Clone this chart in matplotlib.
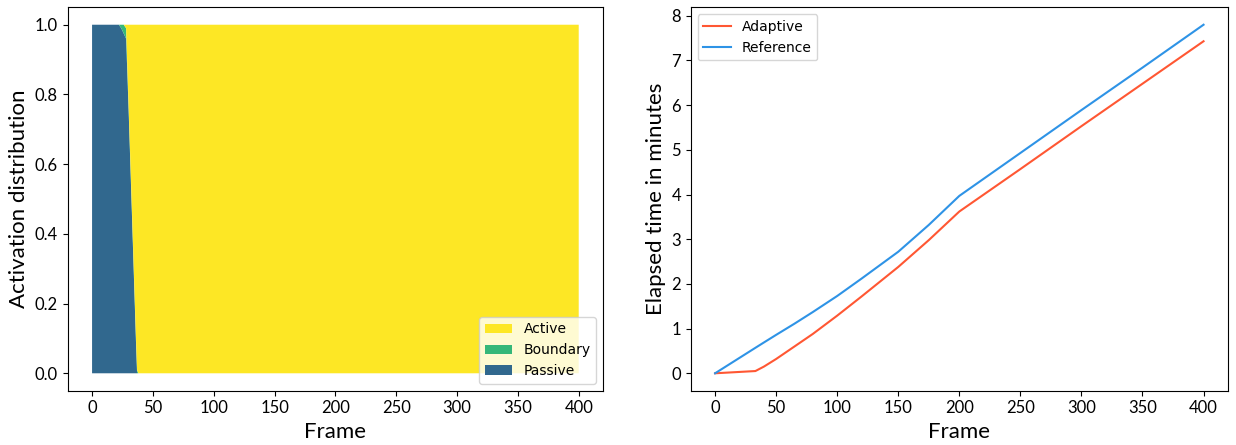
import matplotlib
matplotlib.use('Agg')
import matplotlib.pyplot as plt
from matplotlib import font_manager

# frame samples for the activation distribution (fractions)
dist_frames = [0, 22, 24, 26, 28, 30, 32, 34, 36, 37, 38, 400]
passive = [1.0, 1.0, 0.99, 0.975, 0.96, 0.76, 0.54, 0.32, 0.1, 0.0, 0.0, 0.0]
boundary = [0.0, 0.0, 0.01, 0.025, 0.03, 0.012, 0.012, 0.012, 0.012, 0.01, 0.0, 0.0]
active = [1.0 - p - b for p, b in zip(passive, boundary)]

# elapsed time (minutes)
time_frames = [0, 33, 40, 50, 65, 80, 100, 120, 150, 175, 200, 250, 300, 350, 400]
adaptive = [0.0, 0.05, 0.15, 0.32, 0.6, 0.88, 1.29, 1.72, 2.38, 2.98, 3.62,
            4.57, 5.53, 6.48, 7.43]
reference = [0.0, 0.57, 0.69, 0.86, 1.11, 1.37, 1.73, 2.12, 2.72, 3.32, 3.97,
             4.93, 5.89, 6.84, 7.80]

installed = {f.name for f in font_manager.fontManager.ttflist}
tick_font = 'Liberation Sans Narrow' if 'Liberation Sans Narrow' in installed else 'Lato'

fig, (ax1, ax2) = plt.subplots(1, 2, figsize=(12.36, 4.45), dpi=100)

ax1.stackplot(dist_frames, passive, boundary, active,
              colors=['#31688e', '#35b779', '#fde725'],
              labels=['Passive', 'Boundary', 'Active'])
ax1.use_sticky_edges = False
ax1.autoscale_view()
handles, labels = ax1.get_legend_handles_labels()
ax1.legend(handles[::-1], labels[::-1], loc='lower right', fontsize=10)
ax1.set_xlabel('Frame', fontsize=16, family=tick_font)
ax1.set_ylabel('Activation distribution', fontsize=16, family=tick_font)

ax2.plot(time_frames, adaptive, color='#ff5733', label='Adaptive')
ax2.plot(time_frames, reference, color='#2e93e6', label='Reference')
ax2.legend(loc='upper left', fontsize=10)
ax2.set_xlabel('Frame', fontsize=16, family=tick_font)
ax2.set_ylabel('Elapsed time in minutes', fontsize=16, family=tick_font)

for ax in (ax1, ax2):
    ax.set_xticks(range(0, 401, 50))
    for lab in ax.get_xticklabels() + ax.get_yticklabels():
        lab.set_family(tick_font)
        lab.set_fontsize(12)

ax1.set_position([0.0548, 0.122, 0.4331, 0.8616])
ax2.set_position([0.5588, 0.122, 0.4347, 0.8616])
plt.savefig('out.png', dpi=100)
